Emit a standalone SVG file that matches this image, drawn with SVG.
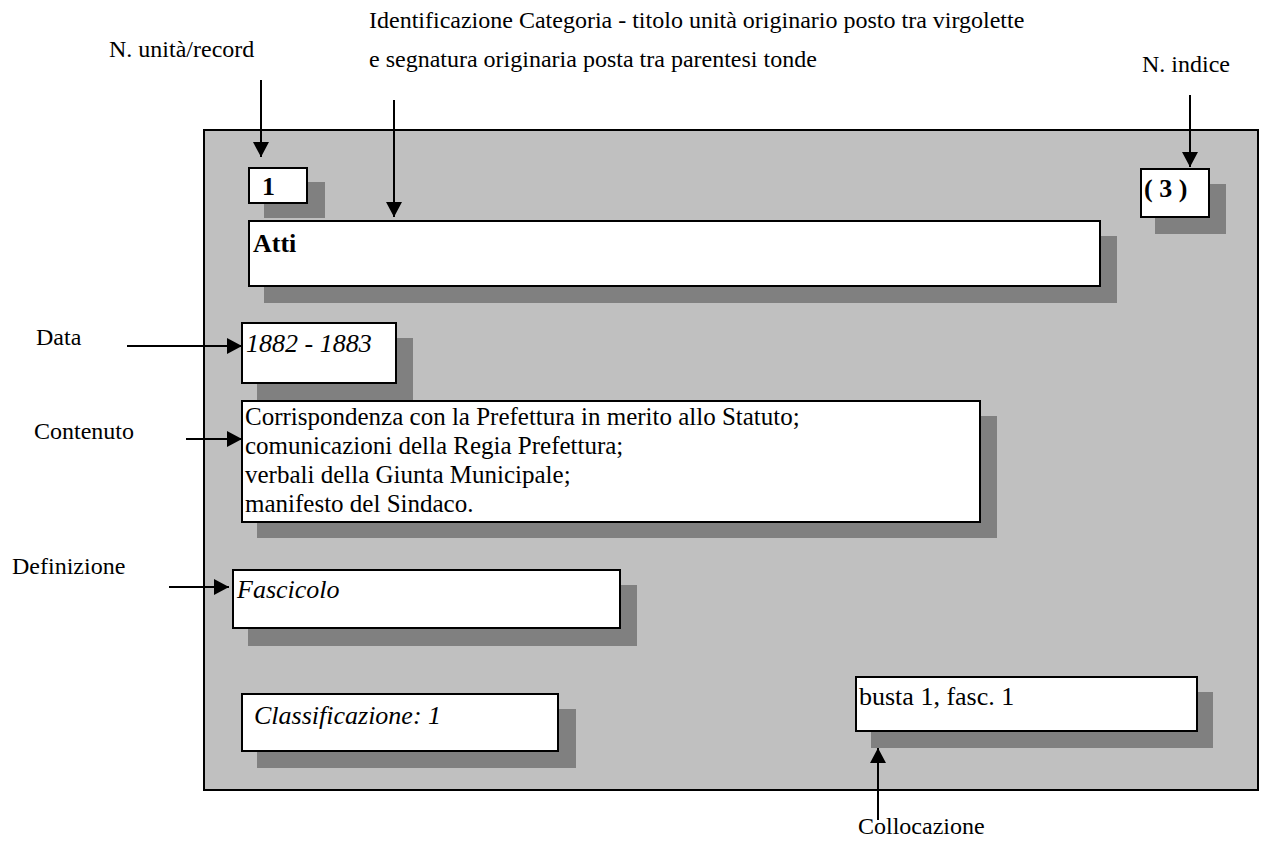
<svg xmlns="http://www.w3.org/2000/svg" width="1261" height="841" viewBox="0 0 1261 841">
<style>
.lbl{font-family:"Liberation Serif","Times New Roman",serif;font-size:24px;fill:#000}
.txt{font-family:"Liberation Serif","Times New Roman",serif;font-size:26px;fill:#000}
.ct{font-family:"Liberation Serif","Times New Roman",serif;font-size:25px;fill:#000}
.it{font-style:italic}
.b{font-weight:bold}
.box{fill:#fff;stroke:#000;stroke-width:2}
.sh{fill:#808080}
.conn line{stroke:#000;stroke-width:2}
</style>
<defs>
<marker id="ah" markerUnits="userSpaceOnUse" markerWidth="16" markerHeight="16" refX="15" refY="8" orient="auto">
<path d="M0,0 L15,8 L0,16 z" fill="#000"/>
</marker>
</defs>
<rect x="0" y="0" width="1261" height="841" fill="#fff"/>
<rect id="panel" x="204" y="130" width="1054" height="660" fill="#c0c0c0" stroke="#000" stroke-width="2"/>

<g id="labels">
<text class="lbl" x="109" y="57">N. unità/record</text>
<text class="lbl" x="369" y="28">Identificazione Categoria - titolo unità originario posto tra virgolette</text>
<text class="lbl" x="369" y="67">e segnatura originaria posta tra parentesi tonde</text>
<text class="lbl" x="1142" y="72">N. indice</text>
<text class="lbl" x="36" y="345">Data</text>
<text class="lbl" x="34" y="439">Contenuto</text>
<text class="lbl" x="12" y="574">Definizione</text>
<text class="lbl" x="858" y="834">Collocazione</text>
</g>

<g id="node-num">
<rect class="sh" x="264" y="182" width="61" height="36"/>
<rect class="box" x="249" y="168" width="58" height="35"/>
<text class="txt b" x="262" y="195">1</text>
</g>
<g id="node-indice">
<rect class="sh" x="1155" y="184" width="71" height="50"/>
<rect class="box" x="1141" y="169" width="68" height="48"/>
<text class="txt b" x="1144" y="197">( 3 )</text>
</g>
<g id="node-titolo">
<rect class="sh" x="264" y="236" width="853" height="67"/>
<rect class="box" x="249" y="221" width="851" height="65"/>
<text class="txt b" x="253" y="252">Atti</text>
</g>
<g id="node-data">
<rect class="sh" x="257" y="338" width="156" height="62"/>
<rect class="box" x="242" y="323" width="154" height="60"/>
<text class="txt it" x="246" y="352">1882 - 1883</text>
</g>
<g id="node-contenuto">
<rect class="sh" x="257" y="416" width="740" height="122"/>
<rect class="box" x="242" y="401" width="738" height="121"/>
<text class="ct" x="245" y="425">Corrispondenza con la Prefettura in merito allo Statuto;</text>
<text class="ct" x="245" y="454">comunicazioni della Regia Prefettura;</text>
<text class="ct" x="245" y="483">verbali della Giunta Municipale;</text>
<text class="ct" x="245" y="512">manifesto del Sindaco.</text>
</g>
<g id="node-definizione">
<rect class="sh" x="248" y="585" width="389" height="61"/>
<rect class="box" x="233" y="570" width="387" height="58"/>
<text class="txt it" x="237" y="598">Fascicolo</text>
</g>
<g id="node-classificazione">
<rect class="sh" x="257" y="709" width="319" height="59"/>
<rect class="box" x="242" y="694" width="316" height="57"/>
<text class="txt it" x="254" y="724">Classificazione: 1</text>
</g>
<g id="node-collocazione">
<rect class="sh" x="871" y="692" width="342" height="56"/>
<rect class="box" x="856" y="677" width="341" height="54"/>
<text class="txt" x="859" y="705">busta 1, fasc. 1</text>
</g>

<g id="connectors" class="conn">
<line x1="261" y1="80" x2="261" y2="157" marker-end="url(#ah)"/>
<line x1="394" y1="100" x2="394" y2="217" marker-end="url(#ah)"/>
<line x1="1190" y1="95" x2="1190" y2="167" marker-end="url(#ah)"/>
<line x1="127" y1="346" x2="242" y2="346" marker-end="url(#ah)"/>
<line x1="186" y1="439" x2="242" y2="439" marker-end="url(#ah)"/>
<line x1="169" y1="587" x2="229" y2="587" marker-end="url(#ah)"/>
<line x1="878" y1="820" x2="878" y2="748" marker-end="url(#ah)"/>
</g>
</svg>
